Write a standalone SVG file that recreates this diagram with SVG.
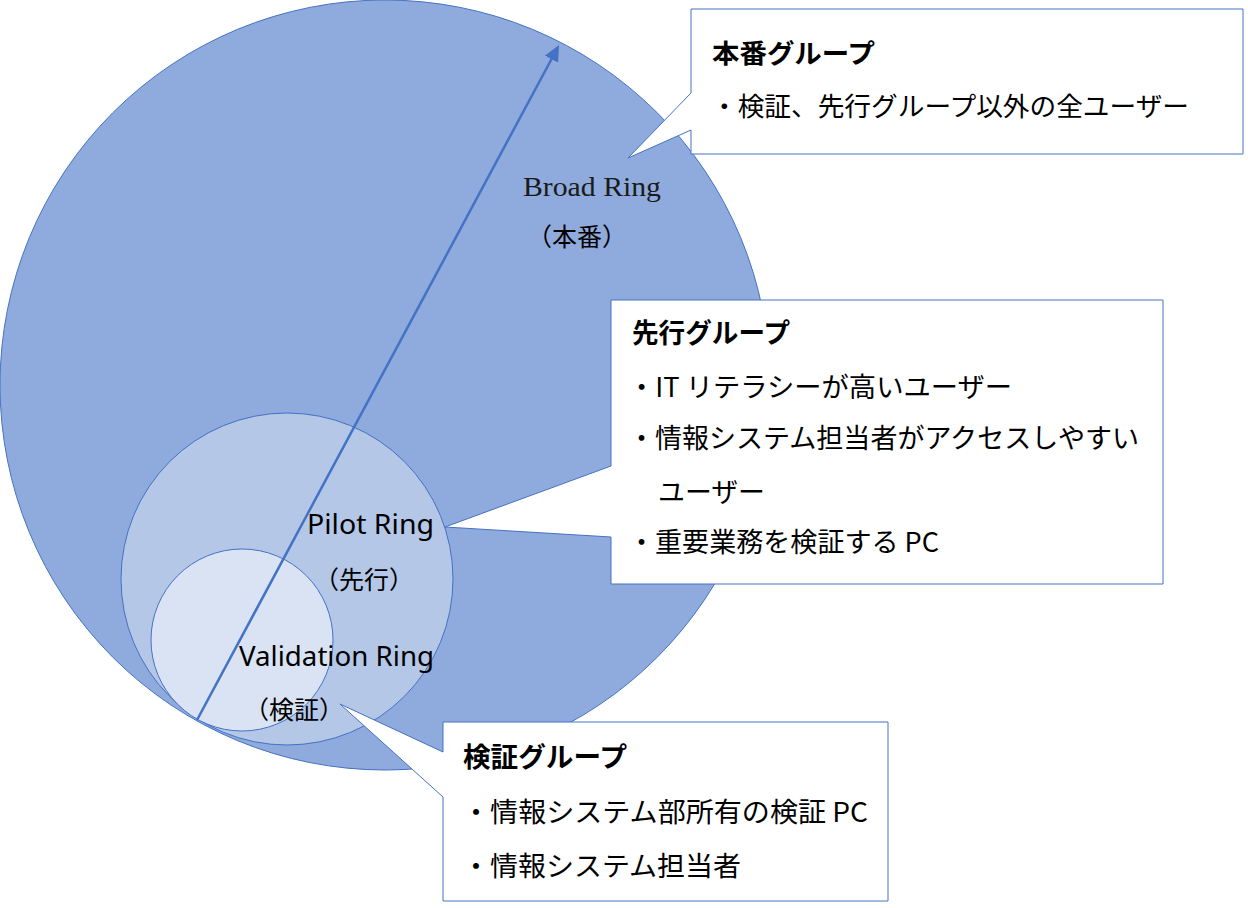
<svg xmlns="http://www.w3.org/2000/svg" width="1248" height="908" viewBox="0 0 1248 908">
  <defs>
    <style>
      .ring { stroke: #4472C4; stroke-width: 1; }
      .callout { fill: #FFFFFF; stroke: #4472C4; stroke-width: 1; stroke-linejoin: miter; }
      .jp { font-family: "Noto Sans CJK JP", sans-serif; fill: #000000; }
      .jpb { font-family: "Noto Sans CJK JP", sans-serif; font-weight: bold; fill: #000000; }
      .lat { font-family: "Noto Sans", "Noto Sans CJK JP", sans-serif; fill: #000000; }
      .ser { font-family: "Liberation Serif", serif; fill: #1a1a1a; }
      .arrow { stroke: #4472C4; stroke-width: 2.5; fill: none; }
    </style>
    <marker id="ah" viewBox="0 0 16 15" refX="3" refY="7.5" markerWidth="16" markerHeight="15" markerUnits="userSpaceOnUse" orient="auto">
      <path d="M0,0 L16,7.5 L0,15 Z" fill="#4472C4"/>
    </marker>
  </defs>

  <rect x="0" y="0" width="1248" height="908" fill="#FFFFFF"/>

  <g id="ring-broad">
    <circle class="ring" cx="385" cy="385" r="385" fill="#8FAADC"/>
  </g>
  <g id="ring-pilot">
    <circle class="ring" cx="287" cy="579" r="166" fill="#B4C7E7"/>
  </g>
  <g id="ring-validation">
    <circle class="ring" cx="242" cy="640" r="91" fill="#DAE3F3"/>
  </g>

  <g id="connectors">
    <line class="arrow" x1="197" y1="720" x2="552.9" y2="56.5" marker-end="url(#ah)"/>
  </g>

  <g id="ring-labels">
    <text class="ser" x="523" y="196" font-size="28" textLength="138" lengthAdjust="spacingAndGlyphs">Broad Ring</text>
    <text class="jp" x="527" y="246" font-size="25">（本番）</text>
    <text class="lat" x="307" y="534" font-size="27.5" textLength="127" lengthAdjust="spacingAndGlyphs">Pilot Ring</text>
    <text class="jp" x="314" y="589" font-size="25">（先行）</text>
    <text class="lat" x="239" y="666" font-size="27.5" textLength="195" lengthAdjust="spacingAndGlyphs">Validation Ring</text>
    <text class="jp" x="244" y="719" font-size="25">（検証）</text>
  </g>

  <g id="callout-broad">
    <path class="callout" d="M691,9 L1243,9 L1243,154 L691,154 L691,130 L628,158 L691,93 Z"/>
    <text class="jpb" x="712" y="63" font-size="26.5" textLength="163" lengthAdjust="spacingAndGlyphs">本番グループ</text>
    <text class="jp" x="711" y="116" font-size="26.5" textLength="478" lengthAdjust="spacingAndGlyphs">・検証、先行グループ以外の全ユーザー</text>
  </g>

  <g id="callout-pilot">
    <path class="callout" d="M611,300 L1163,300 L1163,584 L611,584 L611,537 L445,527 L611,466 Z"/>
    <text class="jpb" x="632" y="343" font-size="27" textLength="158" lengthAdjust="spacingAndGlyphs">先行グループ</text>
    <text class="jp" x="628" y="397" font-size="27" textLength="384" lengthAdjust="spacingAndGlyphs">・IT リテラシーが高いユーザー</text>
    <text class="jp" x="628" y="448" font-size="27" textLength="511" lengthAdjust="spacingAndGlyphs">・情報システム担当者がアクセスしやすい</text>
    <text class="jp" x="658" y="502" font-size="27" textLength="107" lengthAdjust="spacingAndGlyphs">ユーザー</text>
    <text class="jp" x="628" y="552" font-size="27" textLength="311" lengthAdjust="spacingAndGlyphs">・重要業務を検証する PC</text>
  </g>

  <g id="callout-validation">
    <path class="callout" d="M443,722 L888,722 L888,901 L443,901 L443,797 L340,704 L443,752 Z"/>
    <text class="jpb" x="463" y="767" font-size="27.5" textLength="164" lengthAdjust="spacingAndGlyphs">検証グループ</text>
    <text class="jp" x="462" y="822" font-size="27.5" textLength="406" lengthAdjust="spacingAndGlyphs">・情報システム部所有の検証 PC</text>
    <text class="jp" x="462" y="876" font-size="27.5" textLength="279" lengthAdjust="spacingAndGlyphs">・情報システム担当者</text>
  </g>
</svg>
